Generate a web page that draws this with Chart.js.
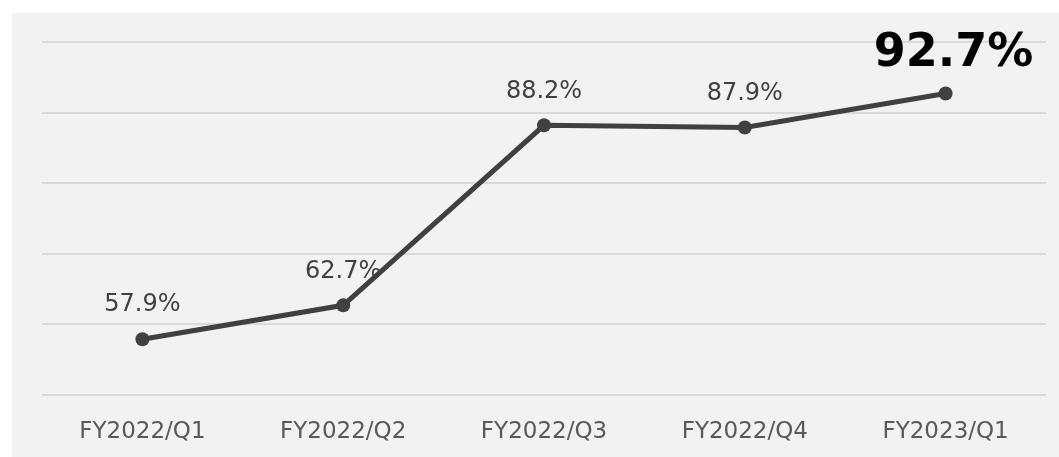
<!DOCTYPE html>
<html>
<head>
<meta charset="utf-8">
<script src="https://cdn.jsdelivr.net/npm/chart.js@4/dist/chart.umd.min.js"></script>
<style>
    body { margin: 0; background: #ffffff; }
    #wrap { position: absolute; left: 12px; top: 13px; width: 1047px; height: 444px; background: #f2f2f2; }
</style>
</head>
<body>
<div id="wrap"><canvas id="rateChart"></canvas></div>
<script>
// chart data
const quarters = ['FY2022/Q1', 'FY2022/Q2', 'FY2022/Q3', 'FY2022/Q4', 'FY2023/Q1'];
const rates = [57.9, 62.7, 88.2, 87.9, 92.7];
const yMin = 50;
const yMax = 100;
const yStep = 10;

// draws the % labels above each point, last one big and bold
const pointLabels = {
    id: 'pointLabels',
    afterDatasetsDraw(chart) {
        const ctx = chart.ctx;
        const meta = chart.getDatasetMeta(0);
        ctx.save();
        ctx.textAlign = 'center';
        ctx.textBaseline = 'middle';
        meta.data.forEach((pt, i) => {
            const last = i === rates.length - 1;
            if (last) {
                ctx.font = 'bold 46px "DejaVu Sans"';
                ctx.fillStyle = '#000000';
                ctx.fillText(rates[i].toFixed(1) + '%', pt.x + 8, pt.y - 39);
            } else {
                ctx.font = '24px "DejaVu Sans"';
                ctx.fillStyle = '#404040';
                ctx.fillText(rates[i].toFixed(1) + '%', pt.x, pt.y - 34);
            }
        });
        ctx.restore();
    }
};

const ctx = document.getElementById('rateChart').getContext('2d');
new Chart(ctx, {
    type: 'line',
    data: {
        labels: quarters,
        datasets: [{
            data: rates,
            borderColor: '#404040',
            backgroundColor: '#404040',
            borderWidth: 5,
            pointRadius: 7,
            pointBackgroundColor: '#404040',
            pointBorderWidth: 0,
            tension: 0,
            clip: false
        }]
    },
    options: {
        responsive: true,
        maintainAspectRatio: false,
        animation: false,
        layout: { padding: { left: 30, right: 13, top: 29, bottom: 0 } },
        plugins: { legend: { display: false }, tooltip: { enabled: false } },
        scales: {
            x: {
                offset: true,
                grid: { display: false },
                border: { display: false },
                ticks: { color: '#595959', font: { family: 'DejaVu Sans', size: 23 }, padding: 15, maxRotation: 0 },
                afterFit(axis) { axis.height = 62; }
            },
            y: {
                min: yMin,
                max: yMax,
                ticks: { display: false, stepSize: yStep },
                grid: { color: '#d9d9d9', lineWidth: 2, drawTicks: false },
                border: { display: false },
                afterFit(axis) { axis.width = 0; }
            }
        }
    },
    plugins: [pointLabels]
});
</script>
</body>
</html>
